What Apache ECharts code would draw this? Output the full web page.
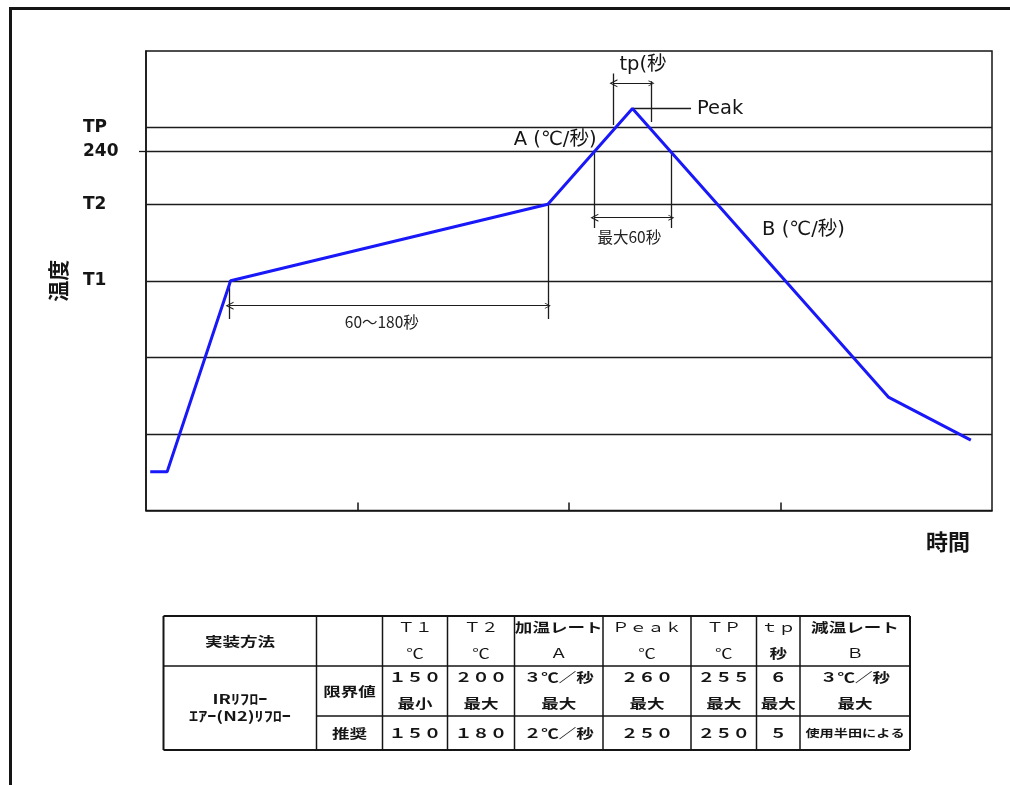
<!DOCTYPE html>
<html>
<head>
<meta charset="utf-8">
<script src="https://cdn.jsdelivr.net/npm/echarts@6/dist/echarts.min.js"></script>
<style>
  html, body { margin: 0; padding: 0; background: #fff; }
  #chart { width: 1010px; height: 785px; }
</style>
</head>
<body>
<div id="chart"></div>
<script>
// Reflow temperature profile (schematic time / temperature units)
const profileTime = [2, 10, 40, 190, 230, 351, 390];
const profileTemp = [17, 17, 150, 203.3, 270, 69, 39];

// Horizontal reference levels and their axis labels
const gridLevels = [43.3, 96.7, 150, 203.3, 240, 256.7];
const levelValues = [256.7, 240, 203.3, 150];
const levelLabels = ['TP', '240', 'T2', 'T1'];
const yTickValues = [240];
const xTickValues = [100, 200, 300];

// Dimension guides (vertical extension lines + leader to Peak)
const guideSegs = [
  [[39.5, 150], [39.5, 123.4]],
  [[190, 203.3], [190, 123.4]],
  [[212, 240], [212, 186.7]],
  [[248.4, 240], [248.4, 186.7]],
  [[221, 294.3], [221, 258.5]],
  [[239, 289], [239, 260.6]],
  [[230, 270], [257.7, 270]]
];
// Double-headed dimension arrows
const arrowSegs = [
  [[39.5, 132.6], [190, 132.6]],
  [[212, 193.9], [248.4, 193.9]],
  [[221, 287.5], [239, 287.5]]
];
// Annotation texts and where they sit
const noteText = ['60〜180秒', '最大60秒', 'tp(秒', 'Peak', 'A (℃/秒)', 'B (℃/秒)'];
const noteAt = [[111.5, 121.5], [228.5, 180.7], [235, 300.2], [260.5, 269.6], [213, 248], [291.3, 185.3]];

// Conditions table
const tableMethod = '実装方法';
const tableMethodRows = ['IRﾘﾌﾛｰ', 'ｴｱｰ(N2)ﾘﾌﾛｰ'];
const tableHead1 = ['Ｔ１', 'Ｔ２', '加温レート', 'Ｐｅａｋ', 'ＴＰ', 'ｔｐ', '減温レート'];
const tableHead2 = ['℃', '℃', 'Ａ', '℃', '℃', '秒', 'Ｂ'];
const limitRowName = '限界値';
const limitValues = ['１５０', '２００', '３℃／秒', '２６０', '２５５', '６', '３℃／秒'];
const limitKinds = ['最小', '最大', '最大', '最大', '最大', '最大', '最大'];
const recRowName = '推奨';
const recValues = ['１５０', '１８０', '２℃／秒', '２５０', '２５０', '５', '使用半田による'];

// ---- layout ----
const INK = '#151515';
const LATIN = '"DejaVu Sans", "Noto Sans CJK JP", sans-serif';
const CJK = '"Noto Sans CJK JP", sans-serif';
const colEdges = [163.5, 316.5, 382.5, 447.5, 514.5, 603, 691, 756.5, 800, 910];
const rowEdges = [616, 666, 716, 750];
const TXT_SCALE = 1.35;

const chart = echarts.init(document.getElementById('chart'), null, { renderer: 'canvas' });

function tableText(x, y, text, opts) {
  opts = opts || {};
  const size = opts.size || 13;
  const weight = opts.weight || 'bold';
  return {
    type: 'text',
    x: x, y: y,
    scaleX: TXT_SCALE,
    z: 10,
    style: {
      text: text,
      fill: opts.color || INK,
      font: weight + ' ' + size + 'px ' + CJK,
      align: 'center', verticalAlign: 'middle',
      textAlign: 'center', textVerticalAlign: 'middle'
    }
  };
}

function tableLine(x1, y1, x2, y2, w) {
  return {
    type: 'line', z: 10,
    shape: { x1: x1, y1: y1, x2: x2, y2: y2 },
    style: { stroke: INK, lineWidth: w || 1.5 }
  };
}

function buildTable() {
  const els = [];
  const L = colEdges[0], R = colEdges[colEdges.length - 1];
  const T = rowEdges[0], B = rowEdges[rowEdges.length - 1];
  // horizontal rules
  els.push(tableLine(L, T, R, T, 2));
  els.push(tableLine(L, rowEdges[1], R, rowEdges[1]));
  els.push(tableLine(colEdges[1], rowEdges[2], R, rowEdges[2]));
  els.push(tableLine(L, B, R, B, 2));
  // vertical rules
  colEdges.forEach(function (x, i) {
    const w = (i === 0 || i === colEdges.length - 1) ? 2 : 1.5;
    els.push(tableLine(x, T, x, B, w));
  });
  const mid = function (i) { return (colEdges[i] + colEdges[i + 1]) / 2; };
  // first two columns
  els.push(tableText(mid(0), 641, tableMethod));
  els.push(tableText(mid(0), 699, tableMethodRows[0], { size: 13.5 }));
  els.push(tableText(mid(0), 716, tableMethodRows[1], { size: 13.5 }));
  els.push(tableText(mid(1), 691, limitRowName));
  els.push(tableText(mid(1), 733, recRowName));
  // data columns
  for (let k = 0; k < tableHead1.length; k++) {
    const cx = mid(k + 2);
    const heavyHead = /[^\uFF00-\uFFEF]/.test(tableHead1[k]);
    els.push(tableText(cx, 627, tableHead1[k], { weight: heavyHead ? 'bold' : 'normal' }));
    els.push(tableText(cx, 653, tableHead2[k], { weight: tableHead2[k] === '秒' ? 'bold' : 'normal' }));
    els.push(tableText(cx, 677, limitValues[k]));
    els.push(tableText(cx, 703, limitKinds[k]));
    const small = recValues[k].length > 5;
    els.push(tableText(cx, 733, recValues[k], small ? { size: 10.5 } : null));
  }
  // outer page frame
  els.push({ type: 'line', z: 10, shape: { x1: 10.5, y1: 8.5, x2: 1010, y2: 8.5 }, style: { stroke: INK, lineWidth: 3 } });
  els.push({ type: 'line', z: 10, shape: { x1: 10.5, y1: 7, x2: 10.5, y2: 785 }, style: { stroke: INK, lineWidth: 3 } });
  return els;
}

const chevron = 'path://M0,10 L5,0 L10,10 L8.6,10 L5,3 L1.4,10 Z';

const option = {
  backgroundColor: '#fff',
  animation: false,
  grid: {
    left: 146, top: 51, right: 18, bottom: 274.5,
    show: true, borderColor: INK, borderWidth: 1.5
  },
  xAxis: {
    type: 'value', min: 0, max: 400,
    name: '時間',
    nameLocation: 'end', nameGap: 0,
    nameTextStyle: {
      fontFamily: CJK, fontWeight: 'bold', fontSize: 22, color: INK,
      align: 'right', verticalAlign: 'top', padding: [20, 22, 0, 0]
    },
    axisLine: { show: true, onZero: false, lineStyle: { color: INK, width: 1.5 } },
    axisTick: { show: true, inside: true, length: 8, customValues: xTickValues, lineStyle: { color: INK, width: 1.5 } },
    axisLabel: { show: false },
    splitLine: { show: false }
  },
  yAxis: {
    type: 'value', min: -10, max: 310,
    name: '温度',
    nameLocation: 'middle', nameRotate: 90, nameGap: 77,
    nameTextStyle: { fontFamily: CJK, fontWeight: 'bold', fontSize: 21, color: INK },
    axisLine: { show: true, onZero: false, lineStyle: { color: INK, width: 1.5 } },
    axisTick: { show: true, length: 7, customValues: yTickValues, lineStyle: { color: INK, width: 1.3 } },
    axisLabel: {
      show: true,
      customValues: levelValues,
      margin: 63, align: 'left',
      fontFamily: LATIN, fontWeight: 'bold', fontSize: 17, color: INK,
      formatter: function (v) {
        let best = 0;
        levelValues.forEach(function (lv, i) {
          if (Math.abs(lv - v) < Math.abs(levelValues[best] - v)) best = i;
        });
        return levelLabels[best];
      }
    },
    splitLine: { show: false }
  },
  series: [
    {
      name: 'levels',
      type: 'lines',
      coordinateSystem: 'cartesian2d',
      silent: true,
      z: 2,
      lineStyle: { color: '#1c1c1c', width: 1.3, opacity: 1 },
      data: gridLevels.map(function (v) { return { coords: [[0, v], [400, v]] }; })
    },
    {
      name: 'guides',
      type: 'lines',
      coordinateSystem: 'cartesian2d',
      silent: true,
      z: 3,
      lineStyle: { color: '#1c1c1c', width: 1.3, opacity: 1 },
      data: guideSegs.map(function (s) { return { coords: s }; })
    },
    {
      name: 'arrows',
      type: 'lines',
      coordinateSystem: 'cartesian2d',
      silent: true,
      z: 3,
      symbol: [chevron, chevron],
      symbolSize: [8, 6],
      lineStyle: { color: '#1c1c1c', width: 1.2, opacity: 1 },
      itemStyle: { color: '#1c1c1c' },
      data: arrowSegs.map(function (s) { return { coords: s }; })
    },
    {
      name: 'profile',
      type: 'line',
      z: 5,
      symbol: 'none',
      smooth: false,
      lineStyle: { color: '#1818f8', width: 3 },
      data: profileTime.map(function (t, i) { return [t, profileTemp[i]]; })
    },
    {
      name: 'notes',
      type: 'scatter',
      z: 6,
      symbolSize: 0,
      silent: true,
      itemStyle: { opacity: 1 },
      data: noteText.map(function (txt, i) {
        const small = i < 2;
        const align = i === 3 || i === 5 ? 'left' : (i === 4 ? 'right' : 'center');
        return {
          value: noteAt[i],
          label: {
            show: true,
            position: 'inside',
            formatter: txt,
            align: align,
            verticalAlign: 'middle',
            color: small ? '#222' : INK,
            fontFamily: small ? CJK : LATIN,
            fontSize: small ? 15.5 : 19.5,
            fontWeight: 'normal',
            opacity: 1
          }
        };
      })
    }
  ],
  graphic: { elements: buildTable() }
};

chart.setOption(option);
</script>
</body>
</html>
